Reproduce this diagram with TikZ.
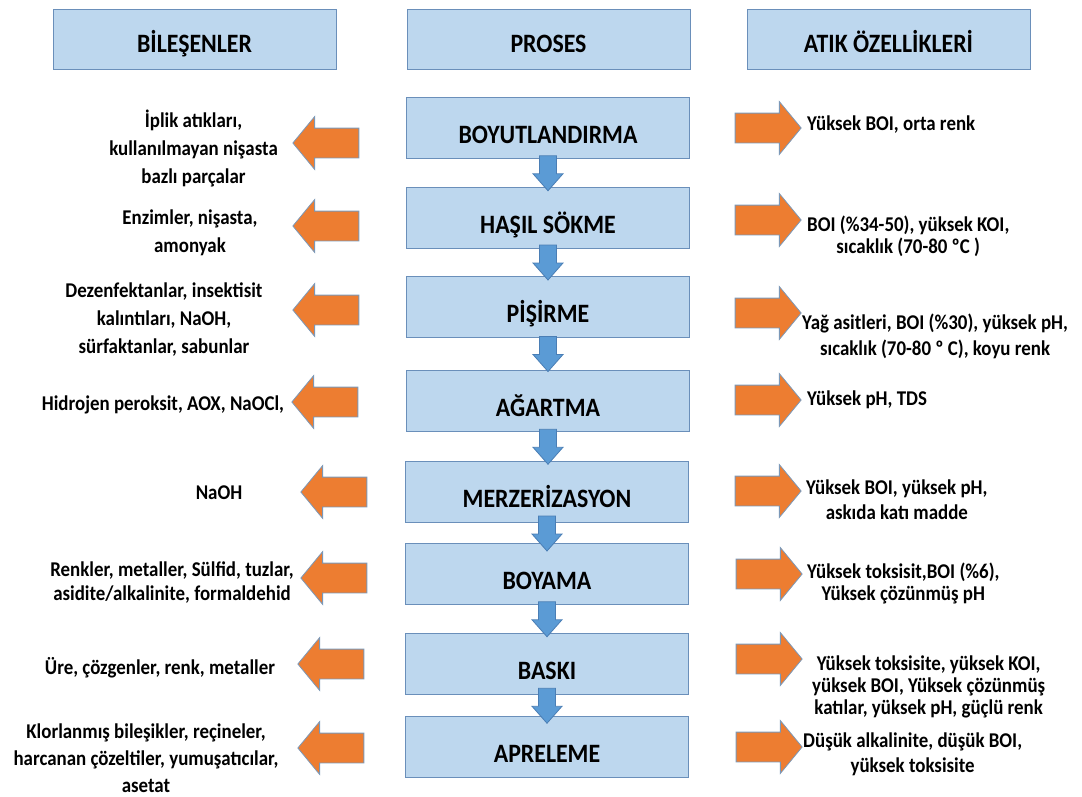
\documentclass[tikz,border=0pt]{standalone}
\usepackage{fontspec}
\setmainfont{Carlito}[FakeStretch=0.9]
\usepackage{xcolor}
\usepackage{tikz}
\usetikzlibrary{positioning, calc, shapes.arrows}

\definecolor{boxblue}{HTML}{BDD7EE}
\definecolor{boxline}{HTML}{6A8FBA}
\definecolor{flowblue}{HTML}{5B9BD5}
\definecolor{flowline}{HTML}{4A7EB5}
\definecolor{outorange}{HTML}{ED7D31}
\definecolor{arrline}{HTML}{7B98B8}

% block arrow between two stages
\newcommand\flowarrow[2]{%
  \path[flowarr] let \p1=(#1.south), \p2=(#2.north), \p3=($(\p1)!0.5!(\p2)$) in
    (\x1-8.5pt,\y3+17pt) -- (\x1+8.5pt,\y3+17pt) -- (\x1+8.5pt,\y3-1pt) -- (\x1+15pt,\y3-1pt)
    -- (\x1,\y3-18pt) -- (\x1-15pt,\y3-1pt) -- (\x1-8.5pt,\y3-1pt) -- cycle;}

\begin{document}
\begin{tikzpicture}[
        x=1pt, y=-1pt,
        stage/.style={draw=boxline, fill=boxblue, line width=1pt, minimum width=283pt, minimum height=61pt, inner sep=0pt, font=\fontsize{26.5}{30}\selectfont\bfseries, text height=31pt, text depth=0pt},
        head/.style={stage, minimum height=60pt, text height=27pt},
        flowarr/.style={fill=flowblue, draw=flowline, line width=0.8pt},
        outarr/.style={single arrow, draw=arrline, fill=outorange, line width=0.8pt, minimum height=66pt, inner xsep=0pt, inner ysep=14.5pt, single arrow head extend=11.5pt, single arrow tip angle=101},
        leftarr/.style={outarr, shape border rotate=180},
        src/.style={align=center, font=\fontsize{21}{28}\selectfont\bfseries, inner sep=0pt},
        waste/.style={align=center, font=\fontsize{21}{23.5}\selectfont\bfseries, inner sep=0pt, anchor=west}
        ]
        \useasboundingbox (0,0) rectangle (1082,796);

        % Headers
        \node[head] (hcomp) at (194.5,39) {BİLEŞENLER};
        \node[head] (hproc) at (548.5,39) {PROSES};
        \node[head] (hwaste) at (888.5,39) {ATIK ÖZELLİKLERİ};

        % Process stages
        \node[stage] (s1) at (548,128) {BOYUTLANDIRMA};
        \node[stage] (s2) at (548,217.5) {HAŞIL SÖKME};
        \node[stage] (s3) at (548,306.5) {PİŞİRME};
        \node[stage] (s4) at (548,400.5) {AĞARTMA};
        \node[stage] (s5) at (547,492) {MERZERİZASYON};
        \node[stage] (s6) at (547,574) {BOYAMA};
        \node[stage] (s7) at (547,663.5) {BASKI};
        \node[stage] (s8) at (547,747) {APRELEME};

        \foreach \a/\b in {s1/s2, s2/s3, s3/s4, s4/s5, s5/s6, s6/s7, s7/s8}
            \flowarrow{\a}{\b};

        % Components (left)
        \node[leftarr] (ca1) at (332,143) {};
        \node[leftarr] (ca2) at (332,226) {};
        \node[leftarr] (ca3) at (332,310) {};
        \node[leftarr] (ca4) at (331,402) {};
        \node[leftarr] (ca5) at (340,492) {};
        \node[leftarr] (ca6) at (340,578) {};
        \node[leftarr] (ca7) at (337,664) {};
        \node[leftarr] (ca8) at (337,748) {};

        \node[src] (ct1) at (193.5,148) {İplik atıkları,\\kullanılmayan nişasta\\bazlı parçalar};
        \node[src] (ct2) at (190,233) {Enzimler, nişasta,\\amonyak};
        \node[src] (ct3) at (164,320) {Dezenfektanlar, insektisit\\kalıntıları, NaOH,\\sürfaktanlar, sabunlar};
        \node[src] (ct4) at (163,405) {Hidrojen peroksit, AOX, NaOCl,};
        \node[src] (ct5) at (219,493) {NaOH};
        \node[src, font=\fontsize{21}{24}\selectfont\bfseries] (ct6) at (172,583) {Renkler, metaller, Sülfid, tuzlar,\\asidite/alkalinite, formaldehid};
        \node[src] (ct7) at (160,668) {Üre, çözgenler, renk, metaller};
        \node[src, font=\fontsize{21}{27}\selectfont\bfseries] (ct8) at (146,758) {Klorlanmış bileşikler, reçineler,\\harcanan çözeltiler, yumuşatıcılar,\\asetat};

        % Waste properties (right)
        \node[outarr] (wa1) at (762,128) {};
        \node[outarr] (wa2) at (762,220) {};
        \node[outarr] (wa3) at (762,313) {};
        \node[outarr] (wa4) at (762,400) {};
        \node[outarr] (wa5) at (762,491) {};
        \node[outarr] (wa6) at (763,574) {};
        \node[outarr] (wa7) at (763,659) {};
        \node[outarr] (wa8) at (763,747) {};

        \node[waste] (wt1) at (807,125) {Yüksek BOI, orta renk};
        \node[waste, font=\fontsize{21}{22}\selectfont\bfseries] (wt2) at (807,236) {BOI (\%34-50), yüksek KOI,\\sıcaklık (70-80 ºC )};
        \node[waste, font=\fontsize{21}{26}\selectfont\bfseries] (wt3) at (802,336) {Yağ asitleri, BOI (\%30), yüksek pH,\\sıcaklık (70-80 º C), koyu renk};
        \node[waste] (wt4) at (807,400) {Yüksek pH, TDS};
        \node[waste, font=\fontsize{21}{25}\selectfont\bfseries] (wt5) at (806,500) {Yüksek BOI, yüksek pH,\\askıda katı madde};
        \node[waste, font=\fontsize{21}{22}\selectfont\bfseries] (wt6) at (807,583) {Yüksek toksisit,BOI (\%6),\\Yüksek çözünmüş pH};
        \node[waste, font=\fontsize{21}{22}\selectfont\bfseries] (wt7) at (812,687) {Yüksek toksisite, yüksek KOI,\\yüksek BOI, Yüksek çözünmüş\\katılar, yüksek pH, güçlü renk};
        \node[waste, font=\fontsize{21}{25}\selectfont\bfseries] (wt8) at (803,754) {Düşük alkalinite, düşük BOI,\\yüksek toksisite};
    \end{tikzpicture}
\end{document}
